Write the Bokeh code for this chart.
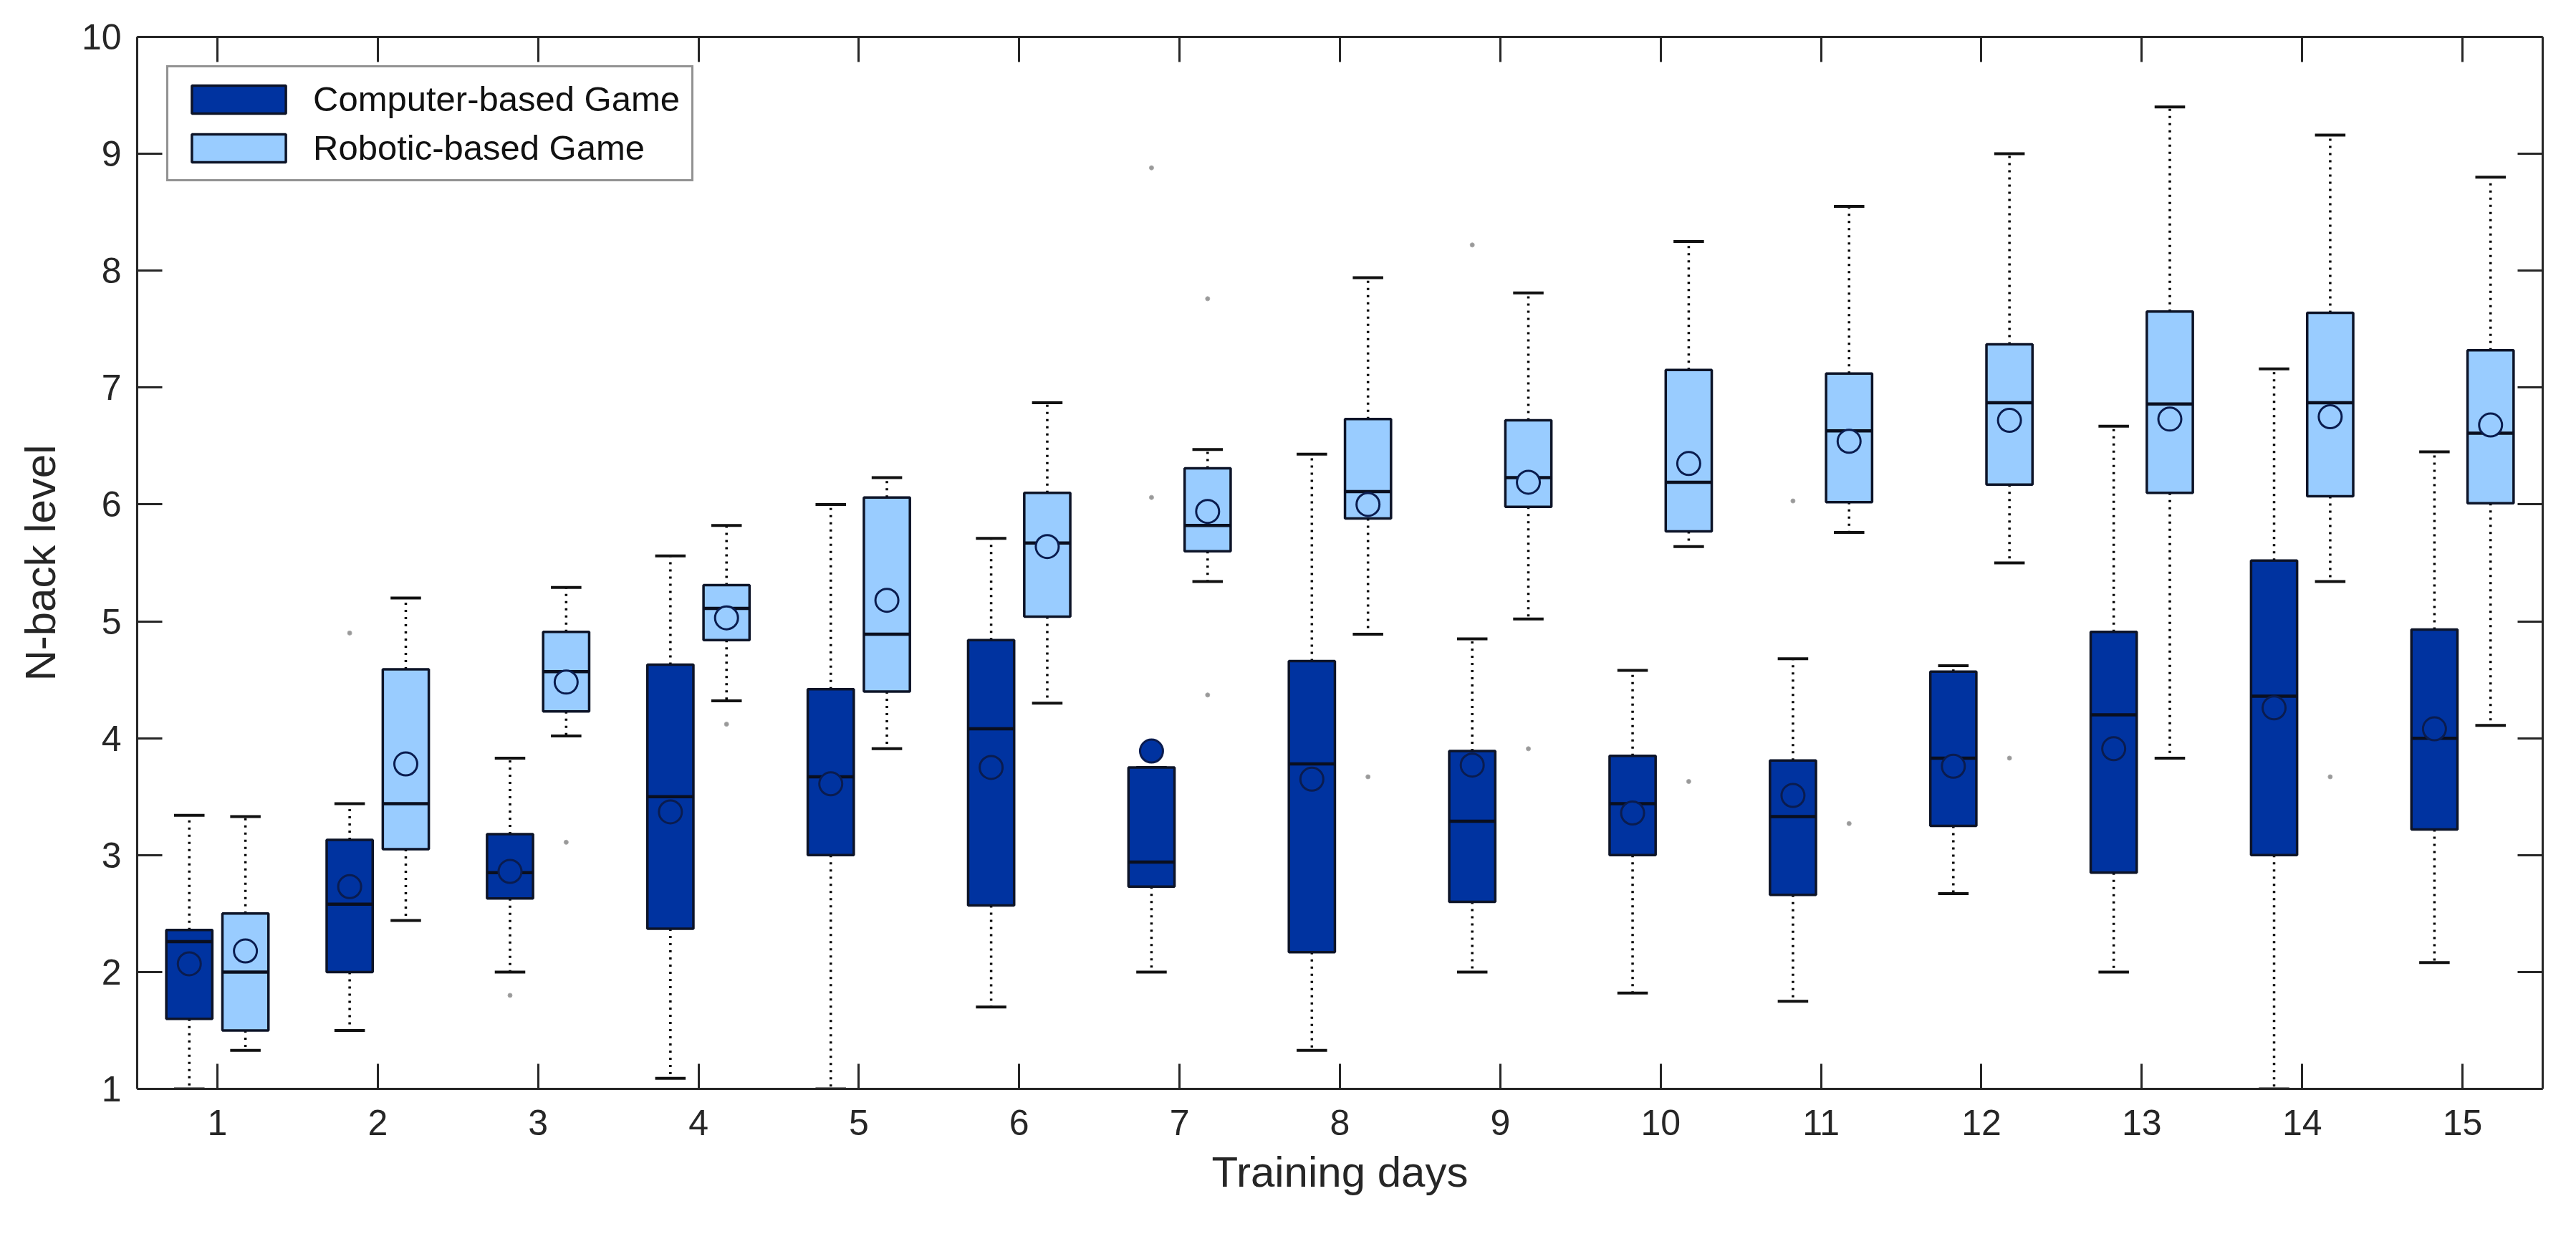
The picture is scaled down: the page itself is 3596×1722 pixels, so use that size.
from bokeh.plotting import figure
from bokeh.models import ColumnDataSource, LinearAxis, FixedTicker, Range1d
from bokeh.transform import dodge
from bokeh.embed import file_html
from bokeh.resources import INLINE

# Training days
days = list(range(1, 16))

# Computer-based game: box-plot statistics per day
comp_whisk_hi = [3.34, 3.44, 3.83, 5.56, 6.00, 5.71, 3.75, 6.43, 4.85, 4.58, 4.68, 4.62, 6.67, 7.16, 6.45]
comp_q3       = [2.36, 3.13, 3.18, 4.63, 4.42, 4.84, 3.75, 4.66, 3.89, 3.85, 3.81, 4.57, 4.91, 5.52, 4.93]
comp_median   = [2.26, 2.58, 2.85, 3.50, 3.67, 4.08, 2.94, 3.78, 3.29, 3.44, 3.33, 3.83, 4.20, 4.36, 4.00]
comp_mean     = [2.07, 2.73, 2.86, 3.37, 3.61, 3.75, 3.89, 3.65, 3.77, 3.36, 3.51, 3.76, 3.91, 4.26, 4.08]
comp_q1       = [1.60, 2.00, 2.63, 2.37, 3.00, 2.57, 2.73, 2.17, 2.60, 3.00, 2.66, 3.25, 2.85, 3.00, 3.22]
comp_whisk_lo = [1.00, 1.50, 2.00, 1.09, 1.00, 1.70, 2.00, 1.33, 2.00, 1.82, 1.75, 2.67, 2.00, 1.00, 2.08]

# Robotic-based game: box-plot statistics per day
robo_whisk_hi = [3.33, 5.20, 5.29, 5.82, 6.23, 6.87, 6.47, 7.94, 7.81, 8.25, 8.55, 9.00, 9.40, 9.16, 8.80]
robo_q3       = [2.50, 4.59, 4.91, 5.31, 6.06, 6.10, 6.31, 6.73, 6.72, 7.15, 7.12, 7.37, 7.65, 7.64, 7.32]
robo_median   = [2.00, 3.44, 4.57, 5.11, 4.89, 5.67, 5.82, 6.11, 6.23, 6.19, 6.63, 6.87, 6.86, 6.87, 6.61]
robo_mean     = [2.18, 3.78, 4.48, 5.03, 5.18, 5.64, 5.94, 6.00, 6.19, 6.35, 6.54, 6.72, 6.73, 6.75, 6.68]
robo_q1       = [1.50, 3.05, 4.23, 4.84, 4.40, 5.04, 5.60, 5.88, 5.98, 5.77, 6.02, 6.17, 6.10, 6.07, 6.01]
robo_whisk_lo = [1.33, 2.44, 4.02, 4.32, 3.91, 4.30, 5.34, 4.89, 5.02, 5.64, 5.76, 5.50, 3.83, 5.34, 4.11]

# Outliers
comp_out_day = [2, 3, 7, 7, 9, 11]
comp_out_val = [4.90, 1.80, 8.88, 6.06, 8.22, 6.03]
robo_out_day = [3, 4, 7, 7, 8, 9, 10, 11, 12, 14]
robo_out_val = [3.11, 4.12, 7.76, 4.37, 3.67, 3.91, 3.63, 3.27, 3.83, 3.67]

y_ticks = list(range(1, 11))

COMP_COLOR = "#0033A0"
ROBO_COLOR = "#99CCFF"
EDGE = "#0d1428"
MEAN_EDGE = "#0a1c4f"
AXIS = "#262626"
FONT = "Liberation Sans"

BOX_W = 0.287
CAP_HALF = 0.095
SHIFT = 0.175

p = figure(width=3596, height=1722, output_backend="svg", toolbar_location=None,
           x_range=Range1d(0.5, 15.5), y_range=Range1d(1, 10),
           min_border_left=191, min_border_right=47, min_border_top=51, min_border_bottom=203)
p.outline_line_color = None
p.xgrid.visible = False
p.ygrid.visible = False
p.background_fill_color = "white"
p.border_fill_color = "white"

groups = [
    ("Computer-based Game", -SHIFT, COMP_COLOR,
     dict(day=days, hi=comp_whisk_hi, q3=comp_q3, med=comp_median, mean=comp_mean, q1=comp_q1, lo=comp_whisk_lo),
     dict(day=comp_out_day, val=comp_out_val)),
    ("Robotic-based Game", SHIFT, ROBO_COLOR,
     dict(day=days, hi=robo_whisk_hi, q3=robo_q3, med=robo_median, mean=robo_mean, q1=robo_q1, lo=robo_whisk_lo),
     dict(day=robo_out_day, val=robo_out_val)),
]

for name, off, color, stats, outs in groups:
    src = ColumnDataSource(stats)
    xc = dodge("day", off)
    # dotted whiskers
    p.segment(x0=xc, y0="q3", x1=xc, y1="hi", source=src, line_color="black",
              line_width=3.5, line_dash="3 7")
    p.segment(x0=xc, y0="q1", x1=xc, y1="lo", source=src, line_color="black",
              line_width=3.5, line_dash="3 7")
    # whisker caps
    p.segment(x0=dodge("day", off - CAP_HALF), y0="hi", x1=dodge("day", off + CAP_HALF), y1="hi",
              source=src, line_color="#111111", line_width=4)
    p.segment(x0=dodge("day", off - CAP_HALF), y0="lo", x1=dodge("day", off + CAP_HALF), y1="lo",
              source=src, line_color="#111111", line_width=4)
    # boxes
    p.vbar(x=xc, width=BOX_W, top="q3", bottom="q1", source=src, fill_color=color,
           line_color=EDGE, line_width=3.5, legend_label=name)
    # medians
    p.segment(x0=dodge("day", off - BOX_W / 2), y0="med", x1=dodge("day", off + BOX_W / 2), y1="med",
              source=src, line_color="#0a0f1f", line_width=4.5)
    # means
    p.scatter(x=xc, y="mean", source=src, marker="circle", size=32, fill_color=color,
              line_color=MEAN_EDGE, line_width=3)
    # outliers
    osrc = ColumnDataSource(outs)
    p.scatter(x=dodge("day", off), y="val", source=osrc, marker="circle", size=6,
              fill_color="#999999", line_color="#aaaaaa", line_width=1)


def style_axis(ax, ticks, show_labels):
    ax.ticker = FixedTicker(ticks=ticks)
    ax.minor_tick_line_color = None
    ax.major_tick_in = 35
    ax.major_tick_out = 0
    ax.major_tick_line_width = 3
    ax.major_tick_line_color = AXIS
    ax.axis_line_width = 3
    ax.axis_line_color = AXIS
    if show_labels:
        ax.major_label_text_font = FONT
        ax.major_label_text_font_size = "50px"
        ax.major_label_text_color = AXIS
    else:
        ax.major_label_text_font_size = "0px"
        ax.major_label_text_alpha = 0


style_axis(p.xaxis[0], days, True)
style_axis(p.yaxis[0], y_ticks, True)
p.xaxis[0].major_label_standoff = 29
p.yaxis[0].major_label_standoff = 22

p.xaxis[0].axis_label = "Training days"
p.yaxis[0].axis_label = "N-back level"
for ax in (p.xaxis[0], p.yaxis[0]):
    ax.axis_label_text_font = FONT
    ax.axis_label_text_font_size = "60px"
    ax.axis_label_text_font_style = "normal"
    ax.axis_label_text_color = AXIS
p.xaxis[0].axis_label_standoff = 15
p.yaxis[0].axis_label_standoff = 21

top_ax = LinearAxis()
style_axis(top_ax, days, False)
p.add_layout(top_ax, "above")
right_ax = LinearAxis()
style_axis(right_ax, y_ticks, False)
p.add_layout(right_ax, "right")

lg = p.legend[0]
# (x, y) of the legend's lower-left corner, in pixels from the frame's lower-left corner
lg.location = (41, 1266)
lg.margin = 0
lg.glyph_width = 164
lg.glyph_height = 49
lg.label_height = 49
lg.label_standoff = 22
lg.spacing = 12
lg.padding = 16
lg.label_text_font = FONT
lg.label_text_font_size = "49px"
lg.label_text_color = "#111111"
lg.border_line_color = AXIS
lg.border_line_width = 3
lg.background_fill_color = "white"
lg.background_fill_alpha = 1.0

open("out.html", "w").write(file_html(p, INLINE))
